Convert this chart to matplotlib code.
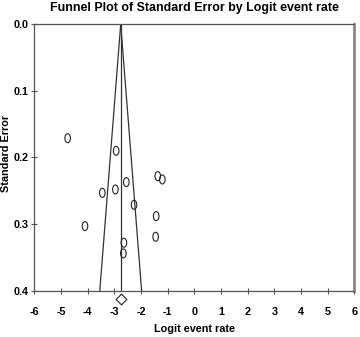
import matplotlib
matplotlib.use("Agg")
import matplotlib.pyplot as plt
import numpy as np
from matplotlib.path import Path
from matplotlib.transforms import Affine2D

plt.rcParams['font.family'] = ['Liberation Sans', 'DejaVu Sans']

# Study data (logit event rate, standard error)
logit_rate = [-4.75, -2.93, -1.37, -1.20, -2.55, -2.96, -3.45, -2.26, -1.43, -4.10, -1.45, -2.64, -2.66]
std_error = [0.171, 0.190, 0.228, 0.233, 0.237, 0.248, 0.253, 0.271, 0.288, 0.303, 0.319, 0.328, 0.344]

pooled_logit = -2.76
max_se = 0.4
diamond_se = 0.413

x_ticks = [-6, -5, -4, -3, -2, -1, 0, 1, 2, 3, 4, 5, 6]
y_ticks = [0.0, 0.1, 0.2, 0.3, 0.4]

fig = plt.figure(figsize=(3.6, 3.37), dpi=100)
ax = fig.add_axes([0.0953, 0.1374, 0.8889, 0.7905])

# Funnel
se_line = np.array([0.0, max_se])
line_col = '#333333'
ax.plot(pooled_logit - 1.96 * se_line, se_line, color=line_col, lw=0.9)
ax.plot(pooled_logit + 1.96 * se_line, se_line, color=line_col, lw=0.9)
ax.plot([pooled_logit, pooled_logit], se_line, color=line_col, lw=0.9)

# Ellipse marker
ell = Path.unit_circle().transformed(Affine2D().scale(0.62, 1.0))
ax.scatter(logit_rate, std_error, marker=ell, s=42, facecolors='none',
           edgecolors='#222222', linewidths=0.8, zorder=3)

# Pooled diamond
ax.scatter([pooled_logit], [diamond_se], marker='D', s=30, facecolors='white',
           edgecolors='#222222', linewidths=0.8, clip_on=False, zorder=4)

ax.set_xlim(-6, 6)
ax.set_ylim(0.4, 0.0)
ax.set_xticks(x_ticks)
ax.set_xticklabels([str(t) for t in x_ticks])
ax.set_yticks(y_ticks)
ax.set_yticklabels([f"{t:.1f}" for t in y_ticks])

ax.tick_params(axis='x', direction='inout', length=4, width=0.8, color='#555555',
               pad=10, labelsize=7.8)
ax.tick_params(axis='y', direction='inout', length=4, width=0.8, color='#555555',
               pad=2, labelsize=7.8)
for lab in ax.get_xticklabels() + ax.get_yticklabels():
    lab.set_fontweight('bold')

for side in ['left', 'top', 'bottom']:
    ax.spines[side].set_color('#555555')
    ax.spines[side].set_linewidth(0.9)
ax.spines['right'].set_color('#888888')
ax.spines['right'].set_linewidth(2.0)

ax.set_title('Funnel Plot of Standard Error by Logit event rate', fontsize=8.9,
             fontweight='bold', pad=9.5)
ax.set_xlabel('Logit event rate', fontsize=7.8, fontweight='bold', labelpad=5)
ax.set_ylabel('Standard Error', fontsize=7.8, fontweight='bold')
ax.yaxis.set_label_coords(-0.074, 0.515)

fig.savefig('out.png', dpi=100)
